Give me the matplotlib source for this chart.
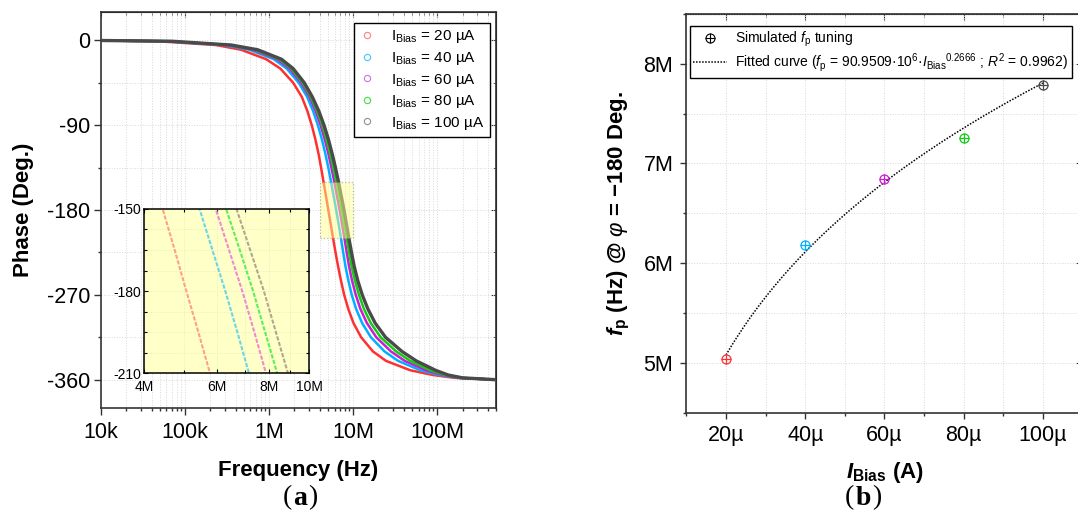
import numpy as np
import matplotlib
matplotlib.use("Agg")
import matplotlib.pyplot as plt
from matplotlib.lines import Line2D
from matplotlib.patches import Rectangle
from matplotlib.ticker import FixedLocator, MultipleLocator, LogLocator, NullFormatter
from matplotlib.legend_handler import HandlerTuple
from matplotlib.offsetbox import TextArea, HPacker, AnchoredOffsetbox

plt.rcParams["font.family"] = ["Liberation Sans", "DejaVu Sans"]
plt.rcParams["mathtext.fontset"] = "custom"
plt.rcParams["mathtext.rm"] = "Liberation Sans"
plt.rcParams["mathtext.it"] = "Liberation Sans:italic"
plt.rcParams["mathtext.bf"] = "Liberation Sans:bold"
plt.rcParams["mathtext.bfit"] = "Liberation Sans:italic:bold"
plt.rcParams["axes.unicode_minus"] = False

# ---- (a) phase response, sampled at fixed phase levels ----
phase_deg = [-0.2, -1, -5, -10, -20, -30, -45, -60, -75, -90, -105, -120, -135, -150,
             -165, -180, -195, -210, -225, -240, -255, -270, -285, -300, -315, -330,
             -340, -350, -355, -358, -360]

# log10(f / Hz) where each bias curve reaches the phase levels above
lgf_20u = [4.0, 4.672, 5.367, 5.667, 5.964, 6.134, 6.286, 6.389, 6.455, 6.507, 6.550,
           6.587, 6.618, 6.647, 6.676, 6.704, 6.733, 6.761, 6.790, 6.821, 6.855, 6.893,
           6.942, 7.004, 7.095, 7.235, 7.390, 7.680, 7.950, 8.200, 8.699]
lgf_40u = [4.0, 4.758, 5.459, 5.765, 6.055, 6.210, 6.352, 6.452, 6.523, 6.580, 6.628,
           6.668, 6.704, 6.736, 6.767, 6.798, 6.827, 6.855, 6.881, 6.909, 6.943, 6.983,
           7.035, 7.107, 7.211, 7.373, 7.534, 7.800, 8.022, 8.240, 8.699]
lgf_60u = [4.0, 4.797, 5.499, 5.808, 6.095, 6.243, 6.381, 6.479, 6.553, 6.612, 6.662,
           6.704, 6.741, 6.775, 6.807, 6.839, 6.868, 6.896, 6.923, 6.952, 6.987, 7.031,
           7.086, 7.164, 7.275, 7.449, 7.613, 7.866, 8.062, 8.262, 8.699]
lgf_80u = [4.0, 4.821, 5.524, 5.836, 6.121, 6.265, 6.400, 6.497, 6.572, 6.633, 6.683,
           6.726, 6.765, 6.800, 6.833, 6.865, 6.894, 6.923, 6.952, 6.982, 7.021, 7.069,
           7.128, 7.210, 7.327, 7.511, 7.678, 7.920, 8.094, 8.280, 8.699]
lgf_100u = [4.0, 4.845, 5.550, 5.863, 6.146, 6.286, 6.418, 6.514, 6.591, 6.653, 6.705,
            6.749, 6.789, 6.825, 6.858, 6.891, 6.920, 6.949, 6.980, 7.013, 7.055, 7.108,
            7.175, 7.262, 7.385, 7.580, 7.750, 7.980, 8.130, 8.300, 8.699]

curve_labels = [r"$\mathrm{I_{Bias}}$ = 20 µA", r"$\mathrm{I_{Bias}}$ = 40 µA",
                r"$\mathrm{I_{Bias}}$ = 60 µA", r"$\mathrm{I_{Bias}}$ = 80 µA",
                r"$\mathrm{I_{Bias}}$ = 100 µA"]

freq_ticks = [1e4, 1e5, 1e6, 1e7, 1e8]
freq_tick_labels = ["10k", "100k", "1M", "10M", "100M"]
phase_ticks = [0, -90, -180, -270, -360]
zoom_freq_ticks = [4e6, 6e6, 8e6, 1e7]
zoom_freq_labels = ["4M", "6M", "8M", "10M"]
zoom_phase_ticks = [-150, -180, -210]

# ---- (b) -180 deg crossing vs bias current ----
i_bias = [20e-6, 40e-6, 60e-6, 80e-6, 100e-6]
fp_sim = [5.04e6, 6.18e6, 6.84e6, 7.26e6, 7.79e6]
fit_a = 90.9509e6
fit_b = 0.2666
bias_ticks = [20e-6, 40e-6, 60e-6, 80e-6, 100e-6]
bias_tick_labels = ["20µ", "40µ", "60µ", "80µ", "100µ"]
fp_ticks = [5e6, 6e6, 7e6, 8e6]
fp_tick_labels = ["5M", "6M", "7M", "8M"]

line_colors = ["#ff3030", "#00b0ff", "#c81ed2", "#12cc12", "#4a4a4a"]
line_widths = [1.8, 1.8, 1.8, 1.8, 2.4]
inset_colors = ["#ffa08c", "#6ad6e6", "#f08ad0", "#5cee5c", "#b0a88e"]
marker_colors = ["#ff8080", "#40c8ff", "#d070e0", "#40e040", "#909090"]
spine_col = "#333333"
grid_kw = dict(color="#d8d8d8", ls=":", lw=0.7)

fig = plt.figure(figsize=(10.78, 5.16), dpi=100)

# ---------------- panel (a) ----------------
ax1 = fig.add_axes([0.0937, 0.2093, 0.3664, 0.7674])
curves = [lgf_20u, lgf_40u, lgf_60u, lgf_80u, lgf_100u]
for lg, col, lw in zip(curves, line_colors, line_widths):
    ax1.plot(10 ** np.array(lg), phase_deg, color=col, lw=lw, zorder=3)

ax1.set_xscale("log")
ax1.set_xlim(1e4, 5e8)
ax1.set_ylim(-390, 30)
ax1.set_xticks(freq_ticks, freq_tick_labels)
ax1.xaxis.set_minor_locator(LogLocator(subs=np.arange(2, 10)))
ax1.xaxis.set_minor_formatter(NullFormatter())
ax1.set_yticks(phase_ticks)
ax1.yaxis.set_minor_locator(MultipleLocator(45))
ax1.tick_params(which="both", direction="out", labelsize=15.5, width=1, colors=spine_col)
ax1.tick_params(axis="y", pad=3)
ax1.tick_params(axis="x", pad=5)
ax1.tick_params(which="major", length=5)
ax1.tick_params(which="minor", length=2.5)
ax1.tick_params(labelcolor="black")
ax1.grid(which="both", **grid_kw)
ax1.set_axisbelow(True)
for s in ax1.spines.values():
    s.set_color(spine_col)
    s.set_linewidth(1.2)

top1 = ax1.secondary_xaxis("top")
top1.set_xticks(freq_ticks)
top1.tick_params(which="both", direction="in", labeltop=False, colors=spine_col)
top1.tick_params(which="major", length=3.5)
top1.tick_params(which="minor", length=2)
right1 = ax1.secondary_yaxis("right")
right1.set_yticks(phase_ticks)
right1.yaxis.set_minor_locator(MultipleLocator(45))
right1.tick_params(which="both", direction="in", labelright=False, colors=spine_col)
right1.tick_params(which="major", length=3.5)
right1.tick_params(which="minor", length=2)

# highlighted zoom window
ax1.add_patch(Rectangle((4e6, -210), 6e6, 60, fc="#ffff90", ec="#777777", ls=":",
                        lw=0.9, alpha=0.5, zorder=4))

ax1.set_xlabel("Frequency (Hz)", fontsize=16, fontweight="bold", va="center")
ax1.xaxis.set_label_coords(0.5, -0.157)
ax1.set_ylabel("Phase (Deg.)", fontsize=16, fontweight="bold", va="center")
ax1.yaxis.set_label_coords(-0.195, 0.5)

handles = [Line2D([], [], marker="o", ls="none", mfc="none", mec=c, ms=4.5, mew=0.8)
           for c in marker_colors]
leg1 = ax1.legend(handles, curve_labels, loc="upper right",
                  bbox_to_anchor=(490 / 1078, 1 - 23 / 516), bbox_transform=fig.transFigure,
                  fontsize=11, frameon=True, fancybox=False, edgecolor="black",
                  framealpha=1, borderpad=0.35, handlelength=1.0, handletextpad=1.1,
                  labelspacing=0.3, borderaxespad=0)
leg1.get_frame().set_linewidth(1.0)

# inset with the -150..-210 deg region
axin = fig.add_axes([0.1336, 0.277, 0.1531, 0.318])
axin.set_facecolor("#ffffc8")
for lg, col in zip(curves, inset_colors):
    axin.plot(10 ** np.array(lg), phase_deg, color=col, lw=1.5, ls=(0, (2, 0.8)))
axin.set_xscale("log")
axin.set_xlim(4e6, 1e7)
axin.set_ylim(-210, -150)
axin.set_xticks(zoom_freq_ticks, zoom_freq_labels)
axin.xaxis.set_minor_locator(FixedLocator([5e6, 7e6, 9e6]))
axin.xaxis.set_minor_formatter(NullFormatter())
axin.set_yticks(zoom_phase_ticks)
axin.yaxis.set_minor_locator(MultipleLocator(7.5))
axin.tick_params(which="both", direction="in", top=True, right=True, labelsize=10,
                 width=0.8)
axin.tick_params(which="major", length=3)
axin.tick_params(which="minor", length=2)
axin.tick_params(axis="x", pad=5)
axin.tick_params(axis="y", pad=2)
axin.grid(which="both", color="#e6e6c0", ls=":", lw=0.6)
for s in axin.spines.values():
    s.set_linewidth(1.1)

# ---------------- panel (b) ----------------
ax2 = fig.add_axes([0.6368, 0.1996, 0.3673, 0.7738])
fit_x = np.linspace(i_bias[0], i_bias[-1], 200)
fit_y = fit_a * fit_x ** fit_b
ax2.plot(fit_x, fit_y, color="black", ls=(0, (1, 1)), lw=1.1, zorder=3)
for x, y, c in zip(i_bias, fp_sim, line_colors):
    ax2.plot(x, y, marker="o", ms=6.5, mfc="none", mec=c, mew=0.9, zorder=4)
    ax2.plot(x, y, marker="+", ms=6.5, color=c, mew=0.9, zorder=4)

ax2.set_xlim(10e-6, 110e-6)
ax2.set_ylim(4.5e6, 8.5e6)
ax2.set_xticks(bias_ticks, bias_tick_labels)
ax2.xaxis.set_minor_locator(MultipleLocator(10e-6))
ax2.set_yticks(fp_ticks, fp_tick_labels)
ax2.yaxis.set_minor_locator(MultipleLocator(0.5e6))
ax2.tick_params(which="both", direction="out", labelsize=15.5, width=1, colors=spine_col)
ax2.tick_params(labelcolor="black")
ax2.tick_params(which="major", length=4.5)
ax2.tick_params(which="minor", length=2.5)
ax2.tick_params(axis="y", pad=5)
ax2.tick_params(axis="x", pad=4)
ax2.grid(which="both", **grid_kw)
ax2.set_axisbelow(True)
for s in ax2.spines.values():
    s.set_color(spine_col)
    s.set_linewidth(1.2)

top2 = ax2.secondary_xaxis("top")
top2.set_xticks(bias_ticks)
top2.xaxis.set_minor_locator(MultipleLocator(10e-6))
top2.tick_params(which="both", direction="in", labeltop=False, colors=spine_col)
top2.tick_params(which="major", length=4)
top2.tick_params(which="minor", length=2)
right2 = ax2.secondary_yaxis("right")
right2.set_yticks(fp_ticks)
right2.tick_params(which="both", direction="in", labelright=False, colors=spine_col,
                   length=4)

ax2.set_xlabel(r"$\mathbfit{I}_\mathbf{Bias}$ (A)", fontsize=16, fontweight="bold",
               va="center")
ax2.xaxis.set_label_coords(0.5, -0.150)
ax2.set_ylabel(r"$\mathbfit{f}_\mathbf{p}$ (Hz) @ $\varphi$ = −180 Deg.", fontsize=16,
               fontweight="bold", va="center")
ax2.yaxis.set_label_coords(-0.170, 0.5)

sim_handle = (Line2D([], [], marker="o", ls="none", ms=6.5, mfc="none", mec="black", mew=0.8),
              Line2D([], [], marker="+", ls="none", ms=6.5, color="black", mew=0.8))
fit_handle = Line2D([], [], color="black", ls=(0, (1, 1)), lw=1.1)
leg2 = ax2.legend([sim_handle, fit_handle],
                  [r"Simulated $f_\mathrm{p}$ tuning",
                   r"Fitted curve ($f_\mathrm{p}$ = 90.9509·$10^6$·${I_\mathrm{Bias}}^{0.2666}$ ; $R^2$ = 0.9962)"],
                  handler_map={tuple: HandlerTuple(ndivide=1)},
                  loc="upper left", bbox_to_anchor=(690 / 1078, 1 - 26 / 516),
                  bbox_transform=fig.transFigure, fontsize=10, frameon=True,
                  fancybox=False, edgecolor="black", framealpha=1, borderpad=0.25,
                  handlelength=2.4, handletextpad=0.6, labelspacing=0.2, borderaxespad=0)
leg2.get_frame().set_linewidth(1.0)


# panel tags: "(a)" / "(b)" with a bold letter
def panel_tag(letter, x_px, y_px):
    serif = dict(family="Liberation Serif", size=20, color="black")
    parts = [TextArea("(", textprops=serif),
             TextArea(letter, textprops=dict(serif, weight="bold")),
             TextArea(")", textprops=serif)]
    box = HPacker(children=parts, pad=0, sep=1)
    tag = AnchoredOffsetbox(loc="center", child=box, pad=0, borderpad=0, frameon=False,
                            bbox_to_anchor=(x_px / 1078, 1 - y_px / 516),
                            bbox_transform=fig.transFigure)
    fig.add_artist(tag)


panel_tag("a", 300, 498)
panel_tag("b", 863, 498)

fig.savefig("out.png", dpi=100)
